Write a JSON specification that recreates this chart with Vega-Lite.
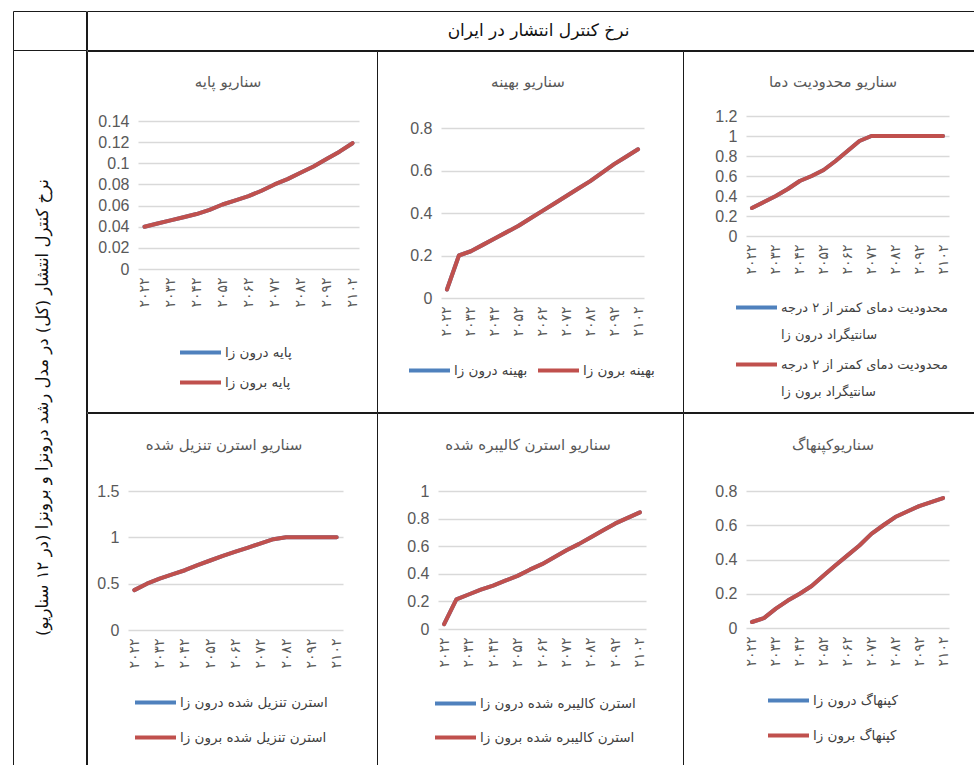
{
  "$schema": "https://vega.github.io/schema/vega-lite/v6.json",
  "padding": {"left": 12, "top": 10, "right": 0, "bottom": 0},
  "background": "white",
  "spacing": -2,
  "datasets": {
    "base": [
      {"year": 2022, "endo": 0.040, "exo": 0.040}, {"year": 2027, "endo": 0.043, "exo": 0.043},
      {"year": 2032, "endo": 0.046, "exo": 0.046}, {"year": 2037, "endo": 0.049, "exo": 0.049},
      {"year": 2042, "endo": 0.052, "exo": 0.052}, {"year": 2047, "endo": 0.056, "exo": 0.056},
      {"year": 2052, "endo": 0.061, "exo": 0.061}, {"year": 2057, "endo": 0.065, "exo": 0.065},
      {"year": 2062, "endo": 0.069, "exo": 0.069}, {"year": 2067, "endo": 0.074, "exo": 0.074},
      {"year": 2072, "endo": 0.080, "exo": 0.080}, {"year": 2077, "endo": 0.085, "exo": 0.085},
      {"year": 2082, "endo": 0.091, "exo": 0.091}, {"year": 2087, "endo": 0.097, "exo": 0.097},
      {"year": 2092, "endo": 0.104, "exo": 0.104}, {"year": 2097, "endo": 0.111, "exo": 0.111},
      {"year": 2102, "endo": 0.119, "exo": 0.119}
    ],
    "optimal": [
      {"year": 2022, "endo": 0.04, "exo": 0.04}, {"year": 2027, "endo": 0.20, "exo": 0.20},
      {"year": 2032, "endo": 0.22, "exo": 0.22}, {"year": 2037, "endo": 0.25, "exo": 0.25},
      {"year": 2042, "endo": 0.28, "exo": 0.28}, {"year": 2047, "endo": 0.31, "exo": 0.31},
      {"year": 2052, "endo": 0.34, "exo": 0.34}, {"year": 2057, "endo": 0.375, "exo": 0.375},
      {"year": 2062, "endo": 0.41, "exo": 0.41}, {"year": 2067, "endo": 0.445, "exo": 0.445},
      {"year": 2072, "endo": 0.48, "exo": 0.48}, {"year": 2077, "endo": 0.515, "exo": 0.515},
      {"year": 2082, "endo": 0.55, "exo": 0.55}, {"year": 2087, "endo": 0.59, "exo": 0.59},
      {"year": 2092, "endo": 0.63, "exo": 0.63}, {"year": 2097, "endo": 0.665, "exo": 0.665},
      {"year": 2102, "endo": 0.70, "exo": 0.70}
    ],
    "temp": [
      {"year": 2022, "endo": 0.28, "exo": 0.28}, {"year": 2027, "endo": 0.34, "exo": 0.34},
      {"year": 2032, "endo": 0.40, "exo": 0.40}, {"year": 2037, "endo": 0.47, "exo": 0.47},
      {"year": 2042, "endo": 0.55, "exo": 0.55}, {"year": 2047, "endo": 0.60, "exo": 0.60},
      {"year": 2052, "endo": 0.66, "exo": 0.66}, {"year": 2057, "endo": 0.75, "exo": 0.75},
      {"year": 2062, "endo": 0.85, "exo": 0.85}, {"year": 2067, "endo": 0.95, "exo": 0.95},
      {"year": 2072, "endo": 1.0, "exo": 1.0}, {"year": 2077, "endo": 1.0, "exo": 1.0},
      {"year": 2082, "endo": 1.0, "exo": 1.0}, {"year": 2087, "endo": 1.0, "exo": 1.0},
      {"year": 2092, "endo": 1.0, "exo": 1.0}, {"year": 2097, "endo": 1.0, "exo": 1.0},
      {"year": 2102, "endo": 1.0, "exo": 1.0}
    ],
    "sternDisc": [
      {"year": 2022, "endo": 0.43, "exo": 0.43}, {"year": 2027, "endo": 0.50, "exo": 0.50},
      {"year": 2032, "endo": 0.555, "exo": 0.555}, {"year": 2037, "endo": 0.60, "exo": 0.60},
      {"year": 2042, "endo": 0.645, "exo": 0.645}, {"year": 2047, "endo": 0.70, "exo": 0.70},
      {"year": 2052, "endo": 0.75, "exo": 0.75}, {"year": 2057, "endo": 0.80, "exo": 0.80},
      {"year": 2062, "endo": 0.845, "exo": 0.845}, {"year": 2067, "endo": 0.89, "exo": 0.89},
      {"year": 2072, "endo": 0.935, "exo": 0.935}, {"year": 2077, "endo": 0.98, "exo": 0.98},
      {"year": 2082, "endo": 1.0, "exo": 1.0}, {"year": 2087, "endo": 1.0, "exo": 1.0},
      {"year": 2092, "endo": 1.0, "exo": 1.0}, {"year": 2097, "endo": 1.0, "exo": 1.0},
      {"year": 2102, "endo": 1.0, "exo": 1.0}
    ],
    "sternCal": [
      {"year": 2022, "endo": 0.035, "exo": 0.035}, {"year": 2027, "endo": 0.215, "exo": 0.215},
      {"year": 2032, "endo": 0.25, "exo": 0.25}, {"year": 2037, "endo": 0.285, "exo": 0.285},
      {"year": 2042, "endo": 0.315, "exo": 0.315}, {"year": 2047, "endo": 0.35, "exo": 0.35},
      {"year": 2052, "endo": 0.385, "exo": 0.385}, {"year": 2057, "endo": 0.43, "exo": 0.43},
      {"year": 2062, "endo": 0.47, "exo": 0.47}, {"year": 2067, "endo": 0.52, "exo": 0.52},
      {"year": 2072, "endo": 0.57, "exo": 0.57}, {"year": 2077, "endo": 0.615, "exo": 0.615},
      {"year": 2082, "endo": 0.665, "exo": 0.665}, {"year": 2087, "endo": 0.715, "exo": 0.715},
      {"year": 2092, "endo": 0.765, "exo": 0.765}, {"year": 2097, "endo": 0.805, "exo": 0.805},
      {"year": 2102, "endo": 0.845, "exo": 0.845}
    ],
    "copenhagen": [
      {"year": 2022, "endo": 0.035, "exo": 0.035}, {"year": 2027, "endo": 0.058, "exo": 0.058},
      {"year": 2032, "endo": 0.113, "exo": 0.113}, {"year": 2037, "endo": 0.16, "exo": 0.16},
      {"year": 2042, "endo": 0.20, "exo": 0.20}, {"year": 2047, "endo": 0.245, "exo": 0.245},
      {"year": 2052, "endo": 0.307, "exo": 0.307}, {"year": 2057, "endo": 0.366, "exo": 0.366},
      {"year": 2062, "endo": 0.424, "exo": 0.424}, {"year": 2067, "endo": 0.482, "exo": 0.482},
      {"year": 2072, "endo": 0.55, "exo": 0.55}, {"year": 2077, "endo": 0.60, "exo": 0.60},
      {"year": 2082, "endo": 0.648, "exo": 0.648}, {"year": 2087, "endo": 0.68, "exo": 0.68},
      {"year": 2092, "endo": 0.712, "exo": 0.712}, {"year": 2097, "endo": 0.735, "exo": 0.735},
      {"year": 2102, "endo": 0.759, "exo": 0.759}
    ]
  },
  "config": {
    "view": {"stroke": "#1a1a1a", "strokeWidth": 1},
    "axisX": {"domain": false, "ticks": false, "grid": false, "labelAngle": -90, "labelFont": "DejaVu Sans", "labelFontSize": 14, "labelColor": "#595959", "labelPadding": 8},
    "axisY": {"domain": false, "ticks": false, "grid": true, "gridColor": "#d9d9d9", "gridWidth": 1.3, "labelFont": "Liberation Sans", "labelFontSize": 16, "labelColor": "#595959", "labelPadding": 9, "format": "~g"},
    "legend": {"symbolType": "stroke", "symbolStrokeWidth": 4, "symbolSize": 1681, "labelFont": "DejaVu Sans", "labelFontSize": 13.5, "labelColor": "#404040", "labelLimit": 400, "padding": 0, "labelOffset": 2},
    "title": {"font": "DejaVu Sans", "fontSize": 15, "fontWeight": "normal", "color": "#595959", "anchor": "middle", "frame": "group"},
    "line": {"strokeWidth": 4, "strokeCap": "round", "strokeJoin": "round"},
    "style": {"guide-label": {"lineHeight": 27}}
  },
  "resolve": {"scale": {"color": "independent", "x": "independent", "y": "independent"}, "legend": {"color": "independent"}},
  "hconcat": [
    {
      "spacing": 0,
      "bounds": "flush",
      "vconcat": [
        {"width": 73, "height": 39, "data": {"values": [{"t": ""}]}, "mark": {"type": "text"},
         "encoding": {"text": {"field": "t"},
           "x": {"datum": 0, "type": "quantitative", "scale": {"domain": [-1, 1]}, "axis": null},
           "y": {"datum": 0, "type": "quantitative", "scale": {"domain": [-1, 1]}, "axis": null}}},
        {"width": 73, "height": 715, "data": {"values": [{"t": "نرخ کنترل انتشار (کل) در مدل رشد درونزا و برونزا (در ۱۲ سناریو)"}]}, "mark": {"type": "text", "angle": 270, "font": "DejaVu Sans", "fontSize": 16.5, "color": "#111111", "dir": "rtl", "dy": -7},
         "encoding": {"text": {"field": "t"},
           "x": {"datum": 0, "type": "quantitative", "scale": {"domain": [-1, 1]}, "axis": null},
           "y": {"datum": 0, "type": "quantitative", "scale": {"domain": [-1, 1]}, "axis": null}}}
      ]
    },
    {
      "spacing": -2,
      "resolve": {"scale": {"color": "independent", "x": "independent", "y": "independent"}, "legend": {"color": "independent"}},
      "vconcat": [
        {"width": 889, "height": 39, "data": {"values": [{"t": "نرخ کنترل انتشار در ایران"}]}, "mark": {"type": "text", "font": "DejaVu Sans", "fontSize": 17, "color": "#111111", "dir": "rtl", "dx": 7},
         "encoding": {"text": {"field": "t"},
           "x": {"datum": 0, "type": "quantitative", "scale": {"domain": [-1, 1]}, "axis": null},
           "y": {"datum": 0, "type": "quantitative", "scale": {"domain": [-1, 1]}, "axis": null}}},
        {
          "spacing": 0,
          "bounds": "flush",
          "resolve": {"scale": {"color": "independent", "x": "independent", "y": "independent"}, "legend": {"color": "independent"}},
          "hconcat": [
            {
              "width": 290, "height": 361,
              "title": {"text": "سناریو پایه", "offset": -39, "dx": -4},
              "data": {"name": "base"},
              "encoding": {"x": {"field": "year", "type": "ordinal", "scale": {"type": "point", "range": [51, 272], "padding": 0.5}, "axis": {"title": null, "values": [2022, 2032, 2042, 2052, 2062, 2072, 2082, 2092, 2102], "offset": -143, "labelExpr": "replace(replace(replace(replace(replace(replace(replace(replace(replace(replace(datum.label,regexp('0','g'),'۰'),regexp('1','g'),'۱'),regexp('2','g'),'۲'),regexp('3','g'),'۳'),regexp('4','g'),'۴'),regexp('5','g'),'۵'),regexp('6','g'),'۶'),regexp('7','g'),'۷'),regexp('8','g'),'۸'),regexp('9','g'),'۹')"}}},
              "layer": [
                {"mark": {"type": "line"}, "encoding": {
                  "y": {"field": "endo", "type": "quantitative", "scale": {"domain": [0, 0.14], "range": [218, 70], "nice": false}, "axis": {"title": null, "values": [0, 0.02, 0.04, 0.06, 0.08, 0.1, 0.12, 0.14], "offset": -51}},
                  "color": {"datum": "پایه درون زا", "type": "nominal", "scale": {"domain": ["پایه درون زا", "پایه برون زا"], "range": ["#4f81bd", "#c0504d"]}, "legend": {"title": null, "orient": "none", "legendX": 91, "legendY": 279, "direction": "vertical", "rowPadding": 1}}}},
                {"mark": {"type": "line"}, "encoding": {
                  "y": {"field": "exo", "type": "quantitative", "axis": {"title": null, "values": [0, 0.02, 0.04, 0.06, 0.08, 0.1, 0.12, 0.14], "offset": -51}},
                  "color": {"datum": "پایه برون زا", "type": "nominal"}}}
              ]
            },
            {
              "width": 306, "height": 361,
              "title": {"text": "سناریو بهینه", "offset": -39, "dx": -2},
              "data": {"name": "optimal"},
              "encoding": {"x": {"field": "year", "type": "ordinal", "scale": {"type": "point", "range": [64, 267], "padding": 0.5}, "axis": {"title": null, "values": [2022, 2032, 2042, 2052, 2062, 2072, 2082, 2092, 2102], "offset": -114, "labelExpr": "replace(replace(replace(replace(replace(replace(replace(replace(replace(replace(datum.label,regexp('0','g'),'۰'),regexp('1','g'),'۱'),regexp('2','g'),'۲'),regexp('3','g'),'۳'),regexp('4','g'),'۴'),regexp('5','g'),'۵'),regexp('6','g'),'۶'),regexp('7','g'),'۷'),regexp('8','g'),'۸'),regexp('9','g'),'۹')"}}},
              "layer": [
                {"mark": {"type": "line"}, "encoding": {
                  "y": {"field": "endo", "type": "quantitative", "scale": {"domain": [0, 0.8], "range": [247, 77], "nice": false}, "axis": {"title": null, "values": [0, 0.2, 0.4, 0.6, 0.8], "offset": -64}},
                  "color": {"datum": "بهینه درون زا", "type": "nominal", "scale": {"domain": ["بهینه درون زا", "بهینه برون زا"], "range": ["#4f81bd", "#c0504d"]}, "legend": {"title": null, "orient": "none", "legendX": 30, "legendY": 297, "direction": "horizontal", "columnPadding": 8}}}},
                {"mark": {"type": "line"}, "encoding": {
                  "y": {"field": "exo", "type": "quantitative", "axis": {"title": null, "values": [0, 0.2, 0.4, 0.6, 0.8], "offset": -64}},
                  "color": {"datum": "بهینه برون زا", "type": "nominal"}}}
              ]
            },
            {
              "width": 292, "height": 361,
              "title": {"text": "سناریو محدودیت دما", "offset": -39, "dx": 4},
              "data": {"name": "temp"},
              "encoding": {"x": {"field": "year", "type": "ordinal", "scale": {"type": "point", "range": [63, 266], "padding": 0.5}, "axis": {"title": null, "values": [2022, 2032, 2042, 2052, 2062, 2072, 2082, 2092, 2102], "offset": -176, "labelExpr": "replace(replace(replace(replace(replace(replace(replace(replace(replace(replace(datum.label,regexp('0','g'),'۰'),regexp('1','g'),'۱'),regexp('2','g'),'۲'),regexp('3','g'),'۳'),regexp('4','g'),'۴'),regexp('5','g'),'۵'),regexp('6','g'),'۶'),regexp('7','g'),'۷'),regexp('8','g'),'۸'),regexp('9','g'),'۹')"}}},
              "layer": [
                {"mark": {"type": "line"}, "encoding": {
                  "y": {"field": "endo", "type": "quantitative", "scale": {"domain": [0, 1.2], "range": [185, 65], "nice": false}, "axis": {"title": null, "values": [0, 0.2, 0.4, 0.6, 0.8, 1, 1.2], "offset": -63}},
                  "color": {"datum": "محدودیت دمای کمتر از ۲ درجه سانتیگراد درون زا", "type": "nominal", "scale": {"domain": ["محدودیت دمای کمتر از ۲ درجه سانتیگراد درون زا", "محدودیت دمای کمتر از ۲ درجه سانتیگراد برون زا"], "range": ["#4f81bd", "#c0504d"]}, "legend": {"title": null, "orient": "none", "legendX": 51, "legendY": 234, "direction": "vertical", "rowPadding": -13, "labelFontSize": 13, "labelExpr": "indexof(datum.label, 'درون') > 0 ? ['محدودیت دمای کمتر از ۲ درجه', 'سانتیگراد درون زا'] : ['محدودیت دمای کمتر از ۲ درجه', 'سانتیگراد برون زا']"}}}},
                {"mark": {"type": "line"}, "encoding": {
                  "y": {"field": "exo", "type": "quantitative", "axis": {"title": null, "values": [0, 0.2, 0.4, 0.6, 0.8, 1, 1.2], "offset": -63}},
                  "color": {"datum": "محدودیت دمای کمتر از ۲ درجه سانتیگراد برون زا", "type": "nominal"}}}
              ]
            }
          ]
        },
        {
          "spacing": 0,
          "bounds": "flush",
          "resolve": {"scale": {"color": "independent", "x": "independent", "y": "independent"}, "legend": {"color": "independent"}},
          "hconcat": [
            {
              "width": 290, "height": 354,
              "title": {"text": "سناریو استرن تنزیل شده", "offset": -40, "dx": -8},
              "data": {"name": "sternDisc"},
              "encoding": {"x": {"field": "year", "type": "ordinal", "scale": {"type": "point", "range": [41, 256], "padding": 0.5}, "axis": {"title": null, "values": [2022, 2032, 2042, 2052, 2062, 2072, 2082, 2092, 2102], "offset": -137, "labelExpr": "replace(replace(replace(replace(replace(replace(replace(replace(replace(replace(datum.label,regexp('0','g'),'۰'),regexp('1','g'),'۱'),regexp('2','g'),'۲'),regexp('3','g'),'۳'),regexp('4','g'),'۴'),regexp('5','g'),'۵'),regexp('6','g'),'۶'),regexp('7','g'),'۷'),regexp('8','g'),'۸'),regexp('9','g'),'۹')"}}},
              "layer": [
                {"mark": {"type": "line"}, "encoding": {
                  "y": {"field": "endo", "type": "quantitative", "scale": {"domain": [0, 1.5], "range": [217, 78], "nice": false}, "axis": {"title": null, "values": [0, 0.5, 1, 1.5], "offset": -41}},
                  "color": {"datum": "استرن تنزیل شده درون زا", "type": "nominal", "scale": {"domain": ["استرن تنزیل شده درون زا", "استرن تنزیل شده برون زا"], "range": ["#4f81bd", "#c0504d"]}, "legend": {"title": null, "orient": "none", "legendX": 46, "legendY": 267, "direction": "vertical", "rowPadding": 6}}}},
                {"mark": {"type": "line"}, "encoding": {
                  "y": {"field": "exo", "type": "quantitative", "axis": {"title": null, "values": [0, 0.5, 1, 1.5], "offset": -41}},
                  "color": {"datum": "استرن تنزیل شده برون زا", "type": "nominal"}}}
              ]
            },
            {
              "width": 306, "height": 354,
              "title": {"text": "سناریو استرن کالیبره شده", "offset": -40, "dx": -2},
              "data": {"name": "sternCal"},
              "encoding": {"x": {"field": "year", "type": "ordinal", "scale": {"type": "point", "range": [61, 269], "padding": 0.5}, "axis": {"title": null, "values": [2022, 2032, 2042, 2052, 2062, 2072, 2082, 2092, 2102], "offset": -138, "labelExpr": "replace(replace(replace(replace(replace(replace(replace(replace(replace(replace(datum.label,regexp('0','g'),'۰'),regexp('1','g'),'۱'),regexp('2','g'),'۲'),regexp('3','g'),'۳'),regexp('4','g'),'۴'),regexp('5','g'),'۵'),regexp('6','g'),'۶'),regexp('7','g'),'۷'),regexp('8','g'),'۸'),regexp('9','g'),'۹')"}}},
              "layer": [
                {"mark": {"type": "line"}, "encoding": {
                  "y": {"field": "endo", "type": "quantitative", "scale": {"domain": [0, 1], "range": [216, 78], "nice": false}, "axis": {"title": null, "values": [0, 0.2, 0.4, 0.6, 0.8, 1], "offset": -61}},
                  "color": {"datum": "استرن کالیبره شده درون زا", "type": "nominal", "scale": {"domain": ["استرن کالیبره شده درون زا", "استرن کالیبره شده برون زا"], "range": ["#4f81bd", "#c0504d"]}, "legend": {"title": null, "orient": "none", "legendX": 56, "legendY": 268, "direction": "vertical", "rowPadding": 5}}}},
                {"mark": {"type": "line"}, "encoding": {
                  "y": {"field": "exo", "type": "quantitative", "axis": {"title": null, "values": [0, 0.2, 0.4, 0.6, 0.8, 1], "offset": -61}},
                  "color": {"datum": "استرن کالیبره شده برون زا", "type": "nominal"}}}
              ]
            },
            {
              "width": 292, "height": 354,
              "title": {"text": "سناریوکپنهاگ", "offset": -40, "dx": 4},
              "data": {"name": "copenhagen"},
              "encoding": {"x": {"field": "year", "type": "ordinal", "scale": {"type": "point", "range": [63, 266], "padding": 0.5}, "axis": {"title": null, "values": [2022, 2032, 2042, 2052, 2062, 2072, 2082, 2092, 2102], "offset": -139, "labelExpr": "replace(replace(replace(replace(replace(replace(replace(replace(replace(replace(datum.label,regexp('0','g'),'۰'),regexp('1','g'),'۱'),regexp('2','g'),'۲'),regexp('3','g'),'۳'),regexp('4','g'),'۴'),regexp('5','g'),'۵'),regexp('6','g'),'۶'),regexp('7','g'),'۷'),regexp('8','g'),'۸'),regexp('9','g'),'۹')"}}},
              "layer": [
                {"mark": {"type": "line"}, "encoding": {
                  "y": {"field": "endo", "type": "quantitative", "scale": {"domain": [0, 0.8], "range": [215, 78], "nice": false}, "axis": {"title": null, "values": [0, 0.2, 0.4, 0.6, 0.8], "offset": -63}},
                  "color": {"datum": "کپنهاگ درون زا", "type": "nominal", "scale": {"domain": ["کپنهاگ درون زا", "کپنهاگ برون زا"], "range": ["#4f81bd", "#c0504d"]}, "legend": {"title": null, "orient": "none", "legendX": 83, "legendY": 265, "direction": "vertical", "rowPadding": 6}}}},
                {"mark": {"type": "line"}, "encoding": {
                  "y": {"field": "exo", "type": "quantitative", "axis": {"title": null, "values": [0, 0.2, 0.4, 0.6, 0.8], "offset": -63}},
                  "color": {"datum": "کپنهاگ برون زا", "type": "nominal"}}}
              ]
            }
          ]
        }
      ]
    }
  ]
}
